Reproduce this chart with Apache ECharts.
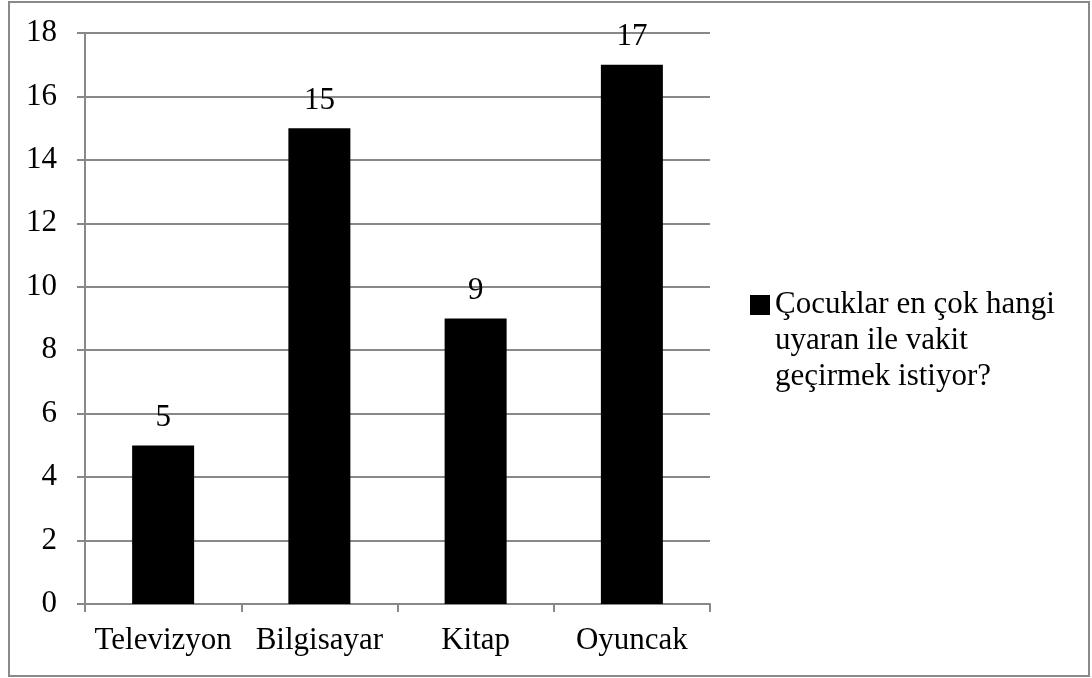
<!DOCTYPE html>
<html>
<head>
<meta charset="utf-8">
<script src="https://cdn.jsdelivr.net/npm/echarts@6/dist/echarts.min.js"></script>
<style>
	html, body { margin: 0; padding: 0; background: #fff; }
	#frame {
		position: absolute; left: 8px; top: 1px;
		width: 1082px; height: 676px;
		border: 2px solid #898989;
		box-sizing: border-box;
	}
	#myChart { position: absolute; left: 0; top: 0; width: 1092px; height: 678px; }
</style>
</head>
<body>
<div id="frame"></div>
<div id="myChart"></div>
<script>
	// kategoriler ve değerler
	var categories = ['Televizyon', 'Bilgisayar', 'Kitap', 'Oyuncak'];
	var values = [5, 15, 9, 17];
	var seriesName = 'Çocuklar en çok hangi\nuyaran ile vakit\ngeçirmek istiyor?';
	var yTicks = { min: 0, max: 18, interval: 2 };

	var myChart = echarts.init(document.getElementById('myChart'));
	var serif = '"Liberation Serif", "Times New Roman", serif';
	myChart.setOption({
		animation: false,
		textStyle: { fontFamily: serif },
		grid: {
			left: 85,
			right: 382,
			top: 33,
			bottom: 74
		},
		legend: {
			left: 750,
			top: 215,
			padding: 0,
			orient: 'vertical',
			icon: 'rect',
			itemWidth: 20,
			itemHeight: 20,
			data: [seriesName],
			// two blank lines in front so the first line sits level with the square
			formatter: function (name) {
				return '\n\n' + name;
			},
			textStyle: {
				fontFamily: serif,
				fontSize: 31,
				color: '#000',
				lineHeight: 36
			}
		},
		xAxis: {
			type: 'category',
			data: categories,
			boundaryGap: true,
			axisLine: { lineStyle: { color: '#888', width: 2 } },
			axisTick: { show: true, interval: 0, length: 8, lineStyle: { color: '#888', width: 2 } },
			axisLabel: { interval: 0, hideOverlap: false, color: '#000', fontSize: 31, fontFamily: serif, margin: 21 }
		},
		yAxis: {
			type: 'value',
			min: yTicks.min,
			max: yTicks.max,
			interval: yTicks.interval,
			axisLine: { show: true, lineStyle: { color: '#888', width: 2 } },
			axisTick: { show: true, length: 8, lineStyle: { color: '#888', width: 2 } },
			splitLine: { lineStyle: { color: '#888', width: 2 } },
			axisLabel: { color: '#000', fontSize: 31, fontFamily: serif, margin: 28 }
		},
		series: [{
			name: seriesName,
			type: 'bar',
			data: values,
			barWidth: 62,
			itemStyle: { color: '#000' },
			label: {
				show: true,
				position: 'top',
				distance: 12,
				color: '#000',
				fontSize: 31,
				fontFamily: serif
			}
		}]
	});
</script>
</body>
</html>
